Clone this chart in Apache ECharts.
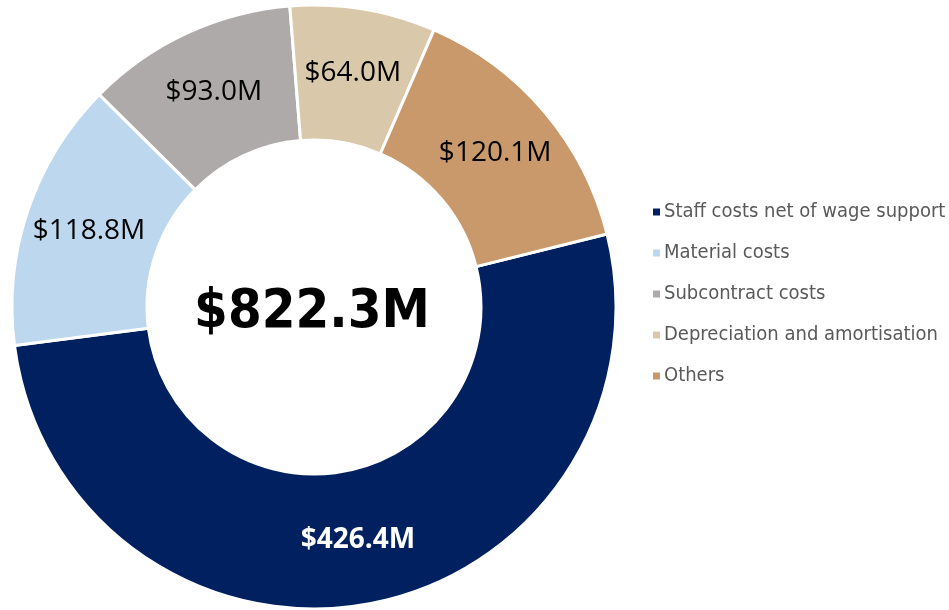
<!DOCTYPE html>
<html>
<head>
<meta charset="utf-8">
<script src="https://cdn.jsdelivr.net/npm/echarts@6/dist/echarts.min.js"></script>
<style>
  html, body { margin: 0; padding: 0; background: #fff; }
  #costDonut { width: 949px; height: 610px; }
</style>
</head>
<body>
<div id="costDonut"></div>
<script>
  var categories = ['Staff costs net of wage support', 'Material costs', 'Subcontract costs', 'Depreciation and amortisation', 'Others'];
  var values = [426.4, 118.8, 93.0, 64.0, 120.1];
  var totalLabel = '$822.3M';
  var colors = ['#002060', '#BDD7EE', '#AEAAAA', '#D9C9AA', '#C9996B'];
  var labelColors = ['#ffffff', '#000000', '#000000', '#000000', '#000000'];

  var pieData = [];
  for (let i = 0; i < categories.length; i++) {
    pieData.push({
      name: categories[i],
      value: values[i],
      itemStyle: { color: colors[i] },
      label: { color: labelColors[i], fontWeight: i == 0 ? 'bold' : 'normal' }
    })
  }

  var myChart = echarts.init(document.getElementById('costDonut'));
  var option = {
    animation: false,
    legend: {
      orient: 'vertical',
      left: 646,
      top: 196,
      itemWidth: 9,
      itemHeight: 9,
      itemGap: 19,
      icon: 'rect',
      textStyle: {
        color: '#595959',
        fontSize: 20,
        lineHeight: 22,
        fontFamily: 'DejaVu Sans Condensed, DejaVu Sans',
        padding: [0, 0, 0, -2]
      },
      data: categories
    },
    graphic: [{
      type: 'text',
      x: 312,
      y: 313,
      style: {
        text: totalLabel,
        fill: '#000',
        align: 'center',
        verticalAlign: 'middle',
        font: 'bold 54px "DejaVu Sans Condensed"'
      }
    }],
    series: [{
      type: 'pie',
      center: [314, 307],
      radius: [167, 302],
      startAngle: 14,
      clockwise: true,
      avoidLabelOverlap: false,
      itemStyle: {
        borderColor: '#ffffff',
        borderWidth: 3
      },
      label: {
        show: true,
        position: 'inside',
        fontSize: 28,
        fontFamily: 'Open Sans',
        formatter: function (p) {
          return '$' + p.value.toFixed(1) + 'M'
        }
      },
      labelLine: { show: false },
      emphasis: { disabled: true },
      data: pieData
    }]
  };
  myChart.setOption(option);
</script>
</body>
</html>
